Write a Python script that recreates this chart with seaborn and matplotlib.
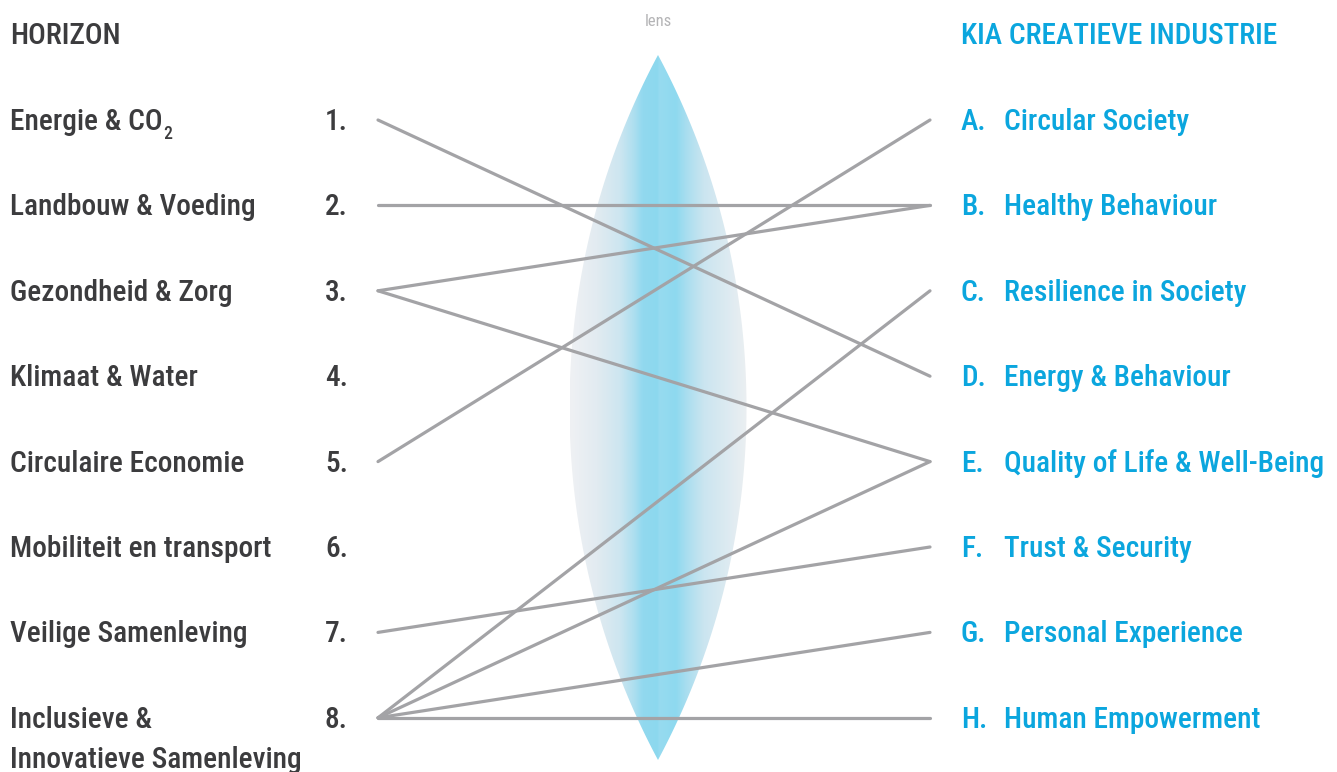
import numpy as np
import pandas as pd
import matplotlib
matplotlib.use("Agg")
import matplotlib.pyplot as plt
import seaborn as sns
from matplotlib import font_manager
from matplotlib.patches import Polygon
from matplotlib.colors import LinearSegmentedColormap

# ---------------- data ----------------
left_title = "HORIZON"
right_title = "KIA CREATIEVE INDUSTRIE"
left_labels = ["Energie & CO", "Landbouw & Voeding", "Gezondheid & Zorg", "Klimaat & Water",
               "Circulaire Economie", "Mobiliteit en transport", "Veilige Samenleving",
               "Inclusieve &\nInnovatieve Samenleving"]
left_numbers = ["1.", "2.", "3.", "4.", "5.", "6.", "7.", "8."]
right_letters = ["A.", "B.", "C.", "D.", "E.", "F.", "G.", "H."]
right_labels = ["Circular Society", "Healthy Behaviour", "Resilience in Society",
                "Energy & Behaviour", "Quality of Life & Well-Being", "Trust & Security",
                "Personal Experience", "Human Empowerment"]
# links: (horizon index, KIA index)
link_from = [0, 1, 2, 2, 4, 6, 7, 7, 7, 7]
link_to   = [3, 1, 1, 4, 0, 5, 2, 4, 6, 7]
lens_label = "lens"

# ---------------- style ----------------
sns.set_theme(style="white")
names = {f.name for f in font_manager.fontManager.ttflist}
for cand in ["Roboto Condensed", "Liberation Sans Narrow", "Roboto"]:
    if cand in names:
        FONT = cand
        break
else:
    FONT = "DejaVu Sans"
plt.rcParams['font.family'] = [FONT, 'DejaVu Sans']

DARK = "#3c3c3e"
BLUE = "#0ba6de"
GREY = "#a3a3a6"
FS = 21.2
FW = "medium"

W, H = 1337, 772
fig = plt.figure(figsize=(W / 100, H / 100), dpi=100)
ax = fig.add_axes([0, 0, 1, 1])
ax.set_xlim(0, W)
ax.set_ylim(H, 0)
ax.axis("off")

row0, step = 120, 85.4
rows = row0 + step * np.arange(len(left_labels))
x_left, x_right = 378, 930

# ---------------- lens ----------------
cx, ytop, ybot, hw = 658, 55, 760, 88.5
cy = (ytop + ybot) / 2
hh = (ybot - ytop) / 2
R = (hh ** 2 + hw ** 2) / (2 * hw)
yy = np.linspace(ytop, ybot, 300)
half = np.sqrt(np.clip(R ** 2 - (yy - cy) ** 2, 0, None)) - (R - hw)
half = np.clip(half, 0, None)
poly_xy = np.concatenate([np.column_stack([cx - half, yy]),
                          np.column_stack([cx + half, yy[::-1]])])
lens_patch = Polygon(poly_xy, closed=True, facecolor="none", edgecolor="none")
ax.add_patch(lens_patch)

stops = [(0.00, "#eff1f4"), (0.15, "#e2ebf1"), (0.28, "#cde6f0"), (0.36, "#aedff0"),
         (0.41, "#92d9ef"), (0.495, "#8cd8ee"), (0.505, "#97dbf0"), (0.60, "#8ed9ef"),
         (0.66, "#a9deef"), (0.76, "#cbe5f0"), (1.00, "#ebeff2")]
cmap = LinearSegmentedColormap.from_list("lens", stops)
grad = np.linspace(0, 1, 400)[None, :]
im = ax.imshow(grad, cmap=cmap, extent=[cx - hw, cx + hw, ybot, ytop],
               aspect="auto", interpolation="bicubic", zorder=1)
im.set_clip_path(lens_patch)
ax.text(cx, 21, lens_label, color="#b4b4b6", fontsize=12, ha="center", va="center")

# ---------------- links ----------------
recs = []
for k, (a, b) in enumerate(zip(link_from, link_to)):
    recs.append({"link": k, "x": x_left, "y": rows[a]})
    recs.append({"link": k, "x": x_right, "y": rows[b]})
df = pd.DataFrame(recs)
sns.lineplot(data=df, x="x", y="y", units="link", estimator=None, sort=False,
             color=GREY, linewidth=2.3, ax=ax, zorder=2, legend=False)
ax.set_xlim(0, W)
ax.set_ylim(H, 0)
ax.axis("off")

# ---------------- text ----------------
kw = dict(fontsize=FS, fontweight=FW, va="center", ha="left")
ax.text(10, 36, left_title, color=DARK, **kw)
ax.text(961, 36, right_title, color=BLUE, **kw)

text_objs = {}
for i, (lab, num) in enumerate(zip(left_labels, left_numbers)):
    y = rows[i] + 2
    if "\n" in lab:
        l1, l2 = lab.split("\n")
        ax.text(10, y, l1, color=DARK, **kw)
        ax.text(10, y + 40, l2, color=DARK, **kw)
    else:
        text_objs[i] = ax.text(10, y, lab, color=DARK, **kw)
    ax.text(325, y, num, color=DARK, **kw)

for i, (let, lab) in enumerate(zip(right_letters, right_labels)):
    y = rows[i] + 2
    ax.text(961, y, let, color=BLUE, **kw)
    ax.text(1004, y, lab, color=BLUE, **kw)

# subscript 2 after "Energie & CO"
fig.canvas.draw()
renderer = fig.canvas.get_renderer()
bb = text_objs[0].get_window_extent(renderer=renderer)
x_end = ax.transData.inverted().transform((bb.x1, bb.y0))[0]
ax.text(x_end + 1, rows[0] + 14, "2", color=DARK, fontsize=FS * 0.6, fontweight=FW,
        va="center", ha="left")

fig.savefig("out.png", dpi=100)
